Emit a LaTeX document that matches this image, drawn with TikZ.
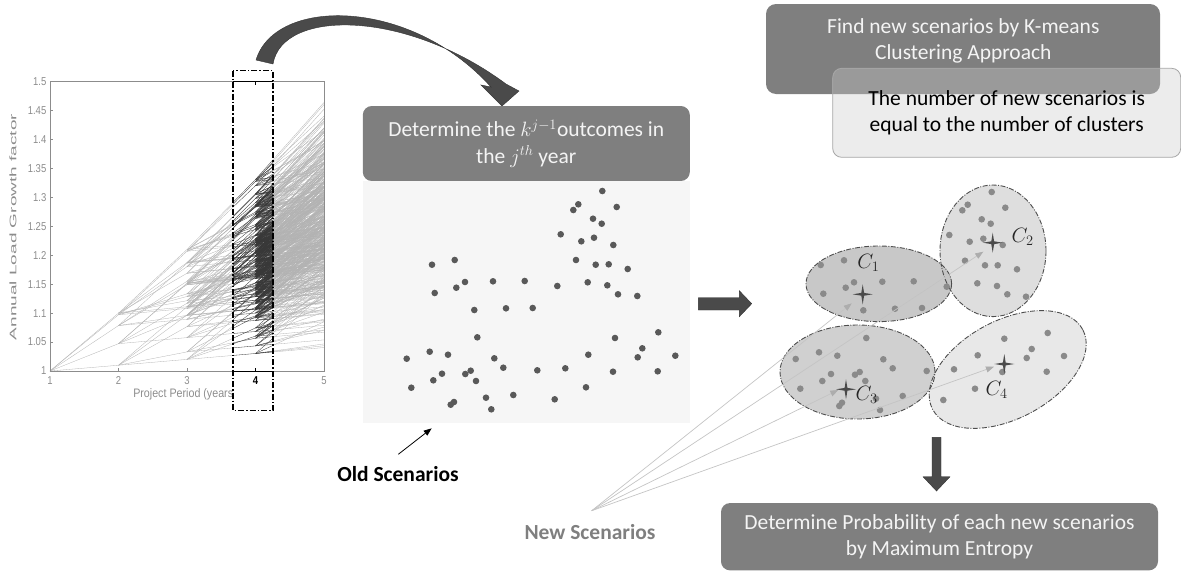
\documentclass[tikz,border=0pt]{standalone}
\usepackage{fontspec}
\setmainfont{Carlito}
\newfontfamily\plotfont{Liberation Sans}
\usepackage{graphicx}
\usetikzlibrary{arrows.meta}

\definecolor{boxdark}{HTML}{7F7F7F}
\definecolor{boxtext}{HTML}{F4F4F4}
\definecolor{boxlight}{HTML}{ECECEC}
\definecolor{boxedge}{HTML}{A6A6A6}
\definecolor{scatbg}{HTML}{F6F6F6}
\definecolor{dotdark}{HTML}{595959}
\definecolor{dotmid}{HTML}{8A8A8A}
\definecolor{arrowfill}{HTML}{4A4A4A}
\definecolor{plotgray}{HTML}{8C8C8C}
\definecolor{clusteredge}{HTML}{4D4D4D}
\definecolor{cOne}{HTML}{C2C2C2}
\definecolor{cTwo}{HTML}{DEDEDE}
\definecolor{cThree}{HTML}{D0D0D0}
\definecolor{cFour}{HTML}{E8E8E8}
\definecolor{pointer}{HTML}{C4C4C4}
\definecolor{pointertip}{HTML}{ADADAD}
\definecolor{newlbl}{HTML}{7F7F7F}

% scenario tree of annual load growth factors (5 outcomes per year)
\newcommand\growthtree[1]{%
  \pgfmathsetseed{4242}%
  \foreach \a in {1,...,5}{%
    \pgfmathsetmacro\va{(\a==1)*1.1+(\a==5)*1.01+(\a>1)*(\a<5)*(1.01+0.09*rnd)}%
    \draw[#1] (0,0) -- (1,\va-1);
    \foreach \b in {1,...,5}{%
      \pgfmathsetmacro\vb{\va*((\b==1)*1.1+(\b==5)*1.01+(\b>1)*(\b<5)*(1.01+0.09*rnd))}%
      \draw[#1] (1,\va-1) -- (2,\vb-1);
      \foreach \c in {1,...,5}{%
        \pgfmathsetmacro\vc{\vb*((\c==1)*1.1+(\c==5)*1.01+(\c>1)*(\c<5)*(1.01+0.09*rnd))}%
        \draw[#1] (2,\vb-1) -- (3,\vc-1);
        \foreach \d in {1,...,5}{%
          \pgfmathsetmacro\vd{\vc*((\d==1)*1.1+(\d==5)*1.01+(\d>1)*(\d<5)*(1.01+0.09*rnd))}%
          \draw[#1] (3,\vc-1) -- (4,\vd-1);
        }%
      }%
    }%
  }%
}

\begin{document}
\begin{tikzpicture}[x=1pt,y=-1pt,
  boxfont/.style={font=\fontsize{21.5}{25.5}\selectfont},
  darkbox/.style={boxfont, fill=boxdark, text=boxtext, rounded corners=9pt, align=center, inner sep=0pt},
  lightbox/.style={boxfont, fill=boxlight, draw=boxedge, line width=0.8pt, text=black, rounded corners=9pt, align=center, inner sep=0pt},
  ticklab/.style={font=\plotfont\fontsize{9.5}{10}\selectfont, text=plotgray, inner sep=0pt},
  dashdot/.style={dash pattern=on 6pt off 2pt on 1.5pt off 2pt},
  cluster/.style={draw=clusteredge, line width=0.9pt, dash pattern=on 5pt off 1.5pt on 1pt off 1.5pt},
  pointerline/.style={draw=pointer, line width=0.7pt, -{Triangle[length=8pt,width=6pt,color=pointertip,fill=pointertip]}},
  clabel/.style={font=\fontsize{20.5}{20.5}\selectfont, text=black!85, inner sep=0pt},
  centroid/.pic={\fill[arrowfill] (0,-10) -- (1.4,-1.4) -- (10,0) -- (1.4,1.4) -- (0,10) -- (-1.4,1.4) -- (-10,0) -- (-1.4,-1.4) -- cycle;}
]
\useasboundingbox (0,0) rectangle (1181,571);

%----------------------------------------------------------------- growth plot
\begin{scope}[shift={(50,371)}, x=68.5pt, y=578.6pt]
  \growthtree{black!30, line width=0.3pt}
  \draw[plotgray, line width=0.6pt] (0,0) rectangle (4,0.5);
  \foreach \yr in {0,...,4} \draw[plotgray, line width=0.5pt] (\yr,0) -- ++(0,0.006);
  \foreach \v [count=\n] in {0,0.05,...,0.5} {
    \draw[plotgray, line width=0.5pt] (0,\v) -- ++(0.045,0);
  }
  \foreach \v/\t [count=\n] in {0/1,0.05/1.05,0.1/1.1,0.15/1.15,0.2/1.2,0.25/1.25,0.3/1.3,0.35/1.35,0.4/1.4,0.45/1.45,0.5/1.5}
    \node[ticklab, anchor=east] (ytick\n) at ([xshift=-3.5pt]0,\v) {\scalebox{1}[1.2]{\t}};
  \foreach \yr [count=\n] in {1,...,5}
    \node[ticklab, anchor=north] (xtick\n) at ([yshift=-5pt]\yr-1,0) {\scalebox{1}[1.2]{\yr}};
\end{scope}
\node[ticklab, rotate=90] (ylab) at (13,227) {\scalebox{2.0}[1]{Annual Load Growth factor}};
\node[ticklab, font=\plotfont\fontsize{10.7}{11}\selectfont] (xlab) at (185,394) {\scalebox{1}[1.15]{Project Period (years)}};

% highlighted year-4 column
\begin{scope}
  \clip (233,70.7) rectangle (273,410.7);
  \fill[white] (233,70.7) rectangle (273,410.7);
  \begin{scope}[shift={(50,371)}, x=68.5pt, y=578.6pt]
    \growthtree{black!78, line width=0.32pt}
    \draw[black, line width=0.8pt] (0,0) -- (4,0);
    \draw[black, line width=0.8pt] (0,0.5) -- (4,0.5);
    \draw[black, line width=0.5pt] (3,0) -- ++(0,0.006);
    \draw[black, line width=0.5pt] (3,0.5) -- ++(0,-0.006);
    \node[ticklab, text=black, anchor=north] (xtickhi) at ([yshift=-5pt]3,0) {\scalebox{1}[1.2]{\textbf{4}}};
  \end{scope}
\end{scope}
\draw[black, line width=1.3pt, dashdot] (233,70.7) rectangle (273,410.7);

% curved transfer arrow
\fill[arrowfill, draw=black!80, line width=0.4pt]
  (256,60) .. controls (275,-3) and (410,-3) .. (491,87)
  -- (481,85) -- (502,106) -- (519,91) -- (506,84)
  .. controls (405,9) and (282,9) .. (273,64) -- cycle;

%----------------------------------------------------------------- old scenarios
\node[darkbox, minimum width=327pt, minimum height=75pt] (outcomes) at (526.3,143.5)
  {Determine the $k^{j-1}$outcomes in\\[1pt]the $j^{th}$ year};
\node[fill=scatbg, minimum width=327.3pt, minimum height=241.7pt, inner sep=0pt, anchor=north] (scatter) at (526.3,181) {};
\foreach \p in {(602.3,191),(616.7,207),(578.3,204.3),(573.3,210),(593,218.7),(601.7,223.7),
  (560.7,234.3),(581.3,241.3),(594,237.7),(613.3,245),(576,260),(595.7,264.7),(608.7,264.3),
  (627.7,269),(432,264.7),(454.7,260),(434.7,293),(456.3,287.7),(465,282),(493,281.3),
  (524.7,281),(557.3,286),(587.7,282.3),(607.3,285.3),(618,294.3),(637.3,296),(474.3,310),
  (506,308.3),(532.7,308),(477.3,337.3),(615,338),(658.3,332.3),(642.3,348.3),(637.7,357.3),
  (675.3,355.7),(588.3,354.7),(406.7,358.7),(429.7,351.7),(448,354.7),(494.3,358.3),
  (503.3,367.7),(442,373.7),(433.3,380.3),(470.7,370.7),(465.3,374),(476,381),(537.3,370.3),
  (565.3,368.3),(613,371.7),(657.7,371.3),(411.3,387.7),(586,387.3),(486,397.7),(513.3,395),
  (554.7,399.3),(454,402),(450.7,404.7),(491.3,409.3)}
  \fill[dotdark] \p circle (3.3pt);

\node[boxfont, font=\fontsize{21.5}{25.5}\selectfont\bfseries, inner sep=0pt] (oldlbl) at (398,474) {Old Scenarios};
\coordinate (oldtail) at (398.3,454.3);
\coordinate (oldtip) at (431.7,428.3);
\draw[black, line width=0.8pt, -{Triangle[length=8pt,width=6pt]}] (oldtail) -- (oldtip);

% step arrow to clustering
\fill[arrowfill, draw=black!80, line width=0.4pt]
  (698.3,297.7) -- (739.3,297.7) -- (739.3,290.7) -- (751.7,303.7) -- (739.3,316.7)
  -- (739.3,310) -- (698.3,310) -- cycle;

%----------------------------------------------------------------- K-means boxes
\fill[boxdark, rounded corners=10pt] (766,4) rectangle (1160,94);
\fill[boxlight, rounded corners=10pt] (832.7,68.3) rectangle (1180.7,157.3);
\begin{scope}
  \clip[rounded corners=10pt] (832.7,68.3) rectangle (1180.7,157.3);
  \fill[boxdark, opacity=0.75, rounded corners=10pt] (766,4) rectangle (1160,94);
\end{scope}
\node[boxfont, text=boxtext, align=center, inner sep=0pt] (kmeans) at (963.3,40.8)
  {Find new scenarios by K-means\\Clustering Approach};
\node[lightbox, fill=none, minimum width=348pt, minimum height=89pt] (numclust) at (1006.7,112.8)
  {The number of new scenarios is\\equal to the number of clusters};

%----------------------------------------------------------------- clusters
\fill[cThree] (857.5,372) ellipse [x radius=77.5pt, y radius=47pt];
\fill[cFour, rotate around={28:(1007.7,369.5)}] (1007.7,369.5) ellipse [x radius=85pt, y radius=49pt];
\fill[cTwo] (993,250.8) ellipse [x radius=53pt, y radius=65.8pt];
\fill[cOne, opacity=0.9] (878.8,283.8) ellipse [x radius=72.8pt, y radius=37.8pt];
\draw[cluster] (857.5,372) ellipse [x radius=77.5pt, y radius=47pt];
\draw[cluster, rotate around={28:(1007.7,369.5)}] (1007.7,369.5) ellipse [x radius=85pt, y radius=49pt];
\draw[cluster] (993,250.8) ellipse [x radius=53pt, y radius=65.8pt];
\draw[cluster] (878.8,283.8) ellipse [x radius=72.8pt, y radius=37.8pt];

\foreach \p in {(820.7,265),(844,260.3),(854,282.3),(845.7,287.7),(823.3,293.7),(882.3,281.7),
  (913.7,281.3),(863.3,310.3),(895,308.7),(922,308),(946.7,286.7),
  (991.7,192),(967.7,204.7),(962.3,210.3),(1005.3,207.7),(981.7,219.3),(990.7,223.7),
  (949.3,235),(969.7,241.7),(983.3,238.7),(1002.7,245),(965,260.7),(985,265.3),(997.7,265.3),
  (1017,269.3),(977.3,283.3),(997,286),(1007.3,294.3),(1026,296.7),
  (866.3,338),(819,352.3),(837.3,355.7),(795.7,359),(883.3,359.3),(892.7,368.3),(926.7,371),
  (831,374),(855,374.7),(859.7,372),(822.3,381),(865.3,381),(800.3,388.7),(902.7,396),
  (876,398.7),(842,402.7),(839.3,406),(880,410),
  (1004.3,338.7),(1047.7,333),(977.7,355.3),(1031.7,349),(1026.7,358),(1064,356),(954,369.3),
  (1002.3,372),(1046.7,371.7),(975,388.7),(943.3,400)}
  \fill[dotmid] \p circle (3.3pt);

% pointers from the label to the new scenarios
\node[font=\fontsize{21.5}{25.5}\selectfont\bfseries, text=newlbl, inner sep=0pt] (newlbl) at (590,532) {New Scenarios};
\coordinate (nsfoot) at (591.7,510.7);
\coordinate (tipone) at (851.7,303.3);
\coordinate (tiptwo) at (983.3,251.7);
\coordinate (tipthree) at (838.3,390);
\coordinate (tipfour) at (994,366.7);
\foreach \t in {tipone,tiptwo,tipthree,tipfour}
  \draw[pointerline] (nsfoot) -- (\t);

% centroids
\pic at (862.7,294.3) {centroid};
\pic at (992.7,242.7) {centroid};
\pic at (846,389.3) {centroid};
\pic at (1004.3,364) {centroid};
\node[clabel] (cone) at (868.3,263.3) {$C_1$};
\node[clabel] (ctwo) at (1022.7,236.7) {$C_2$};
\node[clabel] (cthree) at (866.7,395) {$C_3$};
\node[clabel] (cfour) at (996.7,390) {$C_4$};

%----------------------------------------------------------------- probability step
\fill[arrowfill, draw=black!80, line width=0.4pt]
  (932,437.3) -- (941,437.3) -- (941,476.7) -- (950,476.7) -- (936.5,491) -- (923,476.7)
  -- (932,476.7) -- cycle;
\node[darkbox, minimum width=437pt, minimum height=67.3pt] (maxent) at (939.5,536.7)
  {Determine Probability of each new scenarios\\by Maximum Entropy};
\end{tikzpicture}
\end{document}
